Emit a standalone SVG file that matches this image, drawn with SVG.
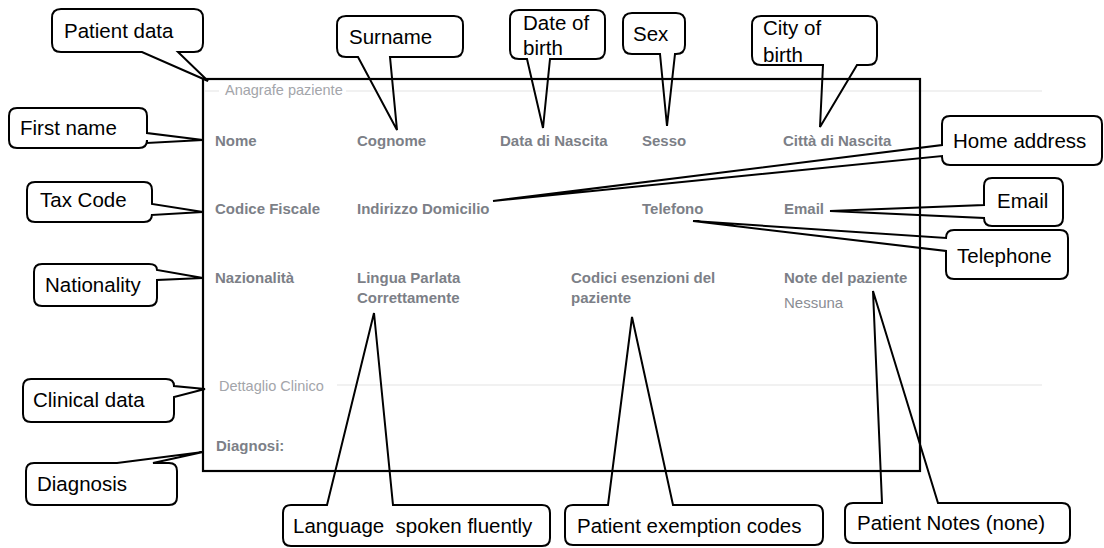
<svg xmlns="http://www.w3.org/2000/svg" width="1104" height="548" viewBox="0 0 1104 548">
<style>
.co{fill:none;stroke:#000;stroke-width:2;stroke-linejoin:miter}
.ct{font-family:"Liberation Sans",Arial,sans-serif;font-size:20.5px;fill:#000}
.f{font-family:"Liberation Sans",Arial,sans-serif;font-size:15px;font-weight:bold;fill:#7c7f87}
.l{font-family:"Liberation Sans",Arial,sans-serif;font-size:14.5px;fill:#a3a5aa}
.n{font-family:"Liberation Sans",Arial,sans-serif;font-size:15px;fill:#8a8d94}
.sep{stroke:#ececec;stroke-width:1.5}
</style>
<rect width="1104" height="548" fill="#fff"/>
<g id="form">
<line class="sep" x1="205" y1="91" x2="219" y2="91"/>
<line class="sep" x1="346" y1="91" x2="1042" y2="91"/>
<line class="sep" x1="337" y1="385" x2="1042" y2="385"/>
<text class="l" x="225" y="95">Anagrafe paziente</text>
<text class="f" x="215" y="146">Nome</text>
<text class="f" x="357" y="146">Cognome</text>
<text class="f" x="500" y="146">Data di Nascita</text>
<text class="f" x="642" y="146">Sesso</text>
<text class="f" x="783" y="146">Città di Nascita</text>
<text class="f" x="215" y="214">Codice Fiscale</text>
<text class="f" x="357" y="214">Indirizzo Domicilio</text>
<text class="f" x="642" y="214">Telefono</text>
<text class="f" x="784" y="214">Email</text>
<text class="f" x="215" y="283">Nazionalità</text>
<text class="f" x="357" y="283">Lingua Parlata</text>
<text class="f" x="357" y="303">Correttamente</text>
<text class="f" x="571" y="283">Codici esenzioni del</text>
<text class="f" x="571" y="303">paziente</text>
<text class="f" x="784" y="283">Note del paziente</text>
<text class="n" x="784" y="308">Nessuna</text>
<text class="l" x="219" y="391">Dettaglio Clinico</text>
<text class="f" x="216" y="451">Diagnosi:</text>
<rect x="203" y="79" width="717" height="392" fill="none" stroke="#000" stroke-width="2.2"/>
</g>
<g id="connectors">
<path class="co" d="M61,9 H194 Q203,9 203,18 V43 Q203,52 194,52 H178 L208,81 L142,52 H61 Q52,52 52,43 V18 Q52,9 61,9 Z"/>
<path class="co" d="M346,16 H454 Q463,16 463,25 V48 Q463,57 454,57 H390 L397,130 L358,57 H346 Q337,57 337,48 V25 Q337,16 346,16 Z"/>
<path class="co" d="M519,10 H596 Q605,10 605,19 V50 Q605,59 596,59 H550 L543,128 L527,59 H519 Q510,59 510,50 V19 Q510,10 519,10 Z"/>
<path class="co" d="M632,13 H676 Q685,13 685,22 V45 Q685,54 676,54 H675 L667,126 L660,54 H632 Q623,54 623,45 V22 Q623,13 632,13 Z"/>
<path class="co" d="M761,16 H868 Q877,16 877,25 V56 Q877,65 868,65 H857 L820,127 L823,65 H761 Q752,65 752,56 V25 Q752,16 761,16 Z"/>
<path class="co" d="M950,116 H1094 Q1102,116 1102,124 V157 Q1102,165 1094,165 H950 Q942,165 942,157 V156 L493,201 L942,145 V124 Q942,116 950,116 Z"/>
<path class="co" d="M992,178 H1055 Q1063,178 1063,186 V218 Q1063,226 1055,226 H992 Q984,226 984,218 L830,211 L984,205 V186 Q984,178 992,178 Z"/>
<path class="co" d="M954,230 H1060 Q1068,230 1068,238 V271 Q1068,279 1060,279 H954 Q946,279 946,271 V251 L693,221 L946,238 Q946,230 954,230 Z"/>
<path class="co" d="M17,108 H139 Q147,108 147,116 V133 L203,140 L147,143 V140 Q147,148 139,148 H17 Q9,148 9,140 V116 Q9,108 17,108 Z"/>
<path class="co" d="M35,182 H144 Q152,182 152,190 V204 L203,212 L152,215 V214 Q152,222 144,222 H35 Q27,222 27,214 V190 Q27,182 35,182 Z"/>
<path class="co" d="M42,264 H149 Q157,264 157,270 L203,278 L157,280 V298 Q157,306 149,306 H42 Q34,306 34,298 V272 Q34,264 42,264 Z"/>
<path class="co" d="M31,379 H166 Q174,379 174,386 L205,389 L174,397 V414 Q174,422 166,422 H31 Q23,422 23,414 V387 Q23,379 31,379 Z"/>
<path class="co" d="M34,463 H117 L203,452 L153,463 H169 Q177,463 177,471 V497 Q177,505 169,505 H34 Q26,505 26,497 V471 Q26,463 34,463 Z"/>
<path class="co" d="M291,505 H327 L374,313 L393,505 H542 Q550,505 550,513 V538 Q550,546 542,546 H291 Q283,546 283,538 V513 Q283,505 291,505 Z"/>
<path class="co" d="M573,505 H608 L632,317 L673,505 H815 Q823,505 823,513 V537 Q823,545 815,545 H573 Q565,545 565,537 V513 Q565,505 573,505 Z"/>
<path class="co" d="M853,503 H882 L873,291 L938,503 H1062 Q1070,503 1070,511 V535 Q1070,543 1062,543 H853 Q845,543 845,535 V511 Q845,503 853,503 Z"/>
</g>
<g id="labels">
<text class="ct" x="64" y="38">Patient data</text>
<text class="ct" x="349" y="44">Surname</text>
<text class="ct" x="523" y="30">Date of</text>
<text class="ct" x="523" y="55">birth</text>
<text class="ct" x="633" y="41">Sex</text>
<text class="ct" x="763" y="35">City of</text>
<text class="ct" x="763" y="62">birth</text>
<text class="ct" x="953" y="148">Home address</text>
<text class="ct" x="997" y="208">Email</text>
<text class="ct" x="957" y="263">Telephone</text>
<text class="ct" x="20" y="135">First name</text>
<text class="ct" x="40" y="207">Tax Code</text>
<text class="ct" x="45" y="292">Nationality</text>
<text class="ct" x="33" y="407">Clinical data</text>
<text class="ct" x="37" y="491">Diagnosis</text>
<text class="ct" x="293" y="533" xml:space="preserve">Language  spoken fluently</text>
<text class="ct" x="577" y="533">Patient exemption codes</text>
<text class="ct" x="857" y="530">Patient Notes (none)</text>
</g>
</svg>
